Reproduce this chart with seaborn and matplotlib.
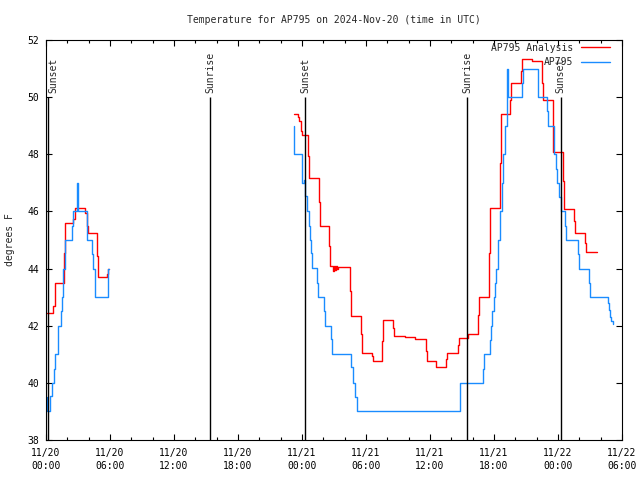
import pandas as pd
import seaborn as sns
import matplotlib
matplotlib.use('Agg')
import matplotlib.pyplot as plt
from matplotlib.lines import Line2D

# hours after 2024-11-20 00:00 UTC; each value holds until the next time (steps)
ana_t1 = [0.07, 0.68, 0.84, 1.69, 1.82, 2.51, 2.68, 2.75, 3.69, 3.81, 3.90, 4.75, 4.84, 5.69, 5.78, 5.90]
ana_v1 = [42.43, 42.7, 43.5, 44.55, 45.6, 45.75, 45.96, 46.13, 45.95, 45.5, 45.25, 44.43, 43.7, 43.8, 44.0, 44.0]

ana_t2 = [23.25, 23.65, 23.75, 23.88, 23.94, 24.04, 24.60, 24.68, 25.56, 25.66, 26.56, 26.65,
          26.88, 27.00, 27.10, 27.19, 27.31, 27.40, 28.50, 28.59, 29.56, 29.66, 30.59, 30.69,
          31.53, 31.62, 32.56, 32.66, 33.66, 34.60, 35.60, 35.69, 36.57, 37.50, 37.62, 38.59,
          38.69, 39.54, 40.53, 40.62, 41.56, 41.66, 42.56, 42.63, 43.51, 43.60, 44.53, 44.63,
          45.53, 46.51, 46.57, 47.50, 47.56, 48.50, 48.59, 49.53, 49.62, 50.56, 50.65, 51.63]
ana_v2 = [49.41, 49.32, 49.15, 48.95, 48.8, 48.68, 47.93, 47.17, 46.32, 45.5, 44.78, 44.08,
          43.9, 44.08, 43.95, 44.08, 44.0, 44.05, 43.21, 42.34, 41.7, 41.06, 40.95, 40.75,
          41.47, 42.19, 41.93, 41.64, 41.6, 41.55, 41.12, 40.77, 40.54, 40.83, 41.04, 41.32,
          41.58, 41.72, 42.36, 43.02, 44.55, 46.12, 47.69, 49.4, 49.9, 50.51, 50.9, 51.32,
          51.26, 50.5, 49.9, 49.0, 48.07, 47.08, 46.09, 45.68, 45.25, 44.9, 44.59, 44.59]

obs_t1 = [0.07, 0.10, 0.41, 0.57, 0.71, 0.81, 1.13, 1.44, 1.52, 1.57, 1.62, 1.78, 2.41, 2.51,
          2.92, 2.98, 3.81, 4.28, 4.44, 4.59, 5.78, 5.93]
obs_v1 = [39.5, 39.0, 39.55, 40.0, 40.5, 41.0, 42.0, 42.5, 43.0, 43.5, 44.0, 45.0, 45.5, 46.0,
          47.0, 46.0, 45.0, 44.5, 44.0, 43.0, 44.0, 44.0]

obs_t2 = [23.23, 23.28, 24.04, 24.19, 24.28, 24.44, 24.63, 24.75, 24.84, 24.91, 25.43, 25.53,
          26.09, 26.19, 26.75, 26.84, 28.62, 28.75, 28.99, 29.12, 38.84, 41.00, 41.09, 41.60,
          41.69, 41.84, 41.97, 42.12, 42.22, 42.35, 42.56, 42.72, 42.87, 43.03, 43.19, 43.25,
          43.30, 44.60, 44.69, 46.15, 47.00, 47.09, 47.62, 47.78, 47.88, 48.12, 48.25, 48.66,
          48.75, 49.90, 50.00, 50.91, 50.97, 52.72, 52.78, 52.88, 53.00, 53.18]
obs_v2 = [49.0, 48.0, 47.0, 47.1, 46.53, 46.0, 45.48, 45.0, 44.55, 44.03, 43.5, 43.02,
          42.51, 41.99, 41.52, 41.02, 40.54, 40.01, 39.49, 39.0, 40.0, 40.5, 41.0, 41.5,
          42.0, 42.5, 43.0, 43.5, 44.0, 45.0, 46.0, 47.0, 48.0, 49.0, 50.0, 51.0,
          50.0, 50.5, 51.0, 50.0, 49.5, 49.0, 48.0, 47.5, 47.0, 46.5, 46.0, 45.5,
          45.0, 44.5, 44.0, 43.5, 43.0, 42.8, 42.55, 42.3, 42.15, 42.05]

sun_times = [0.18, 15.42, 24.3, 39.5, 48.25]
sun_names = ['Sunset', 'Sunrise', 'Sunset', 'Sunrise', 'Sunset']

xtick_hours = [0, 6, 12, 18, 24, 30, 36, 42, 48, 54]
xtick_labels = ['11/20\n00:00', '11/20\n06:00', '11/20\n12:00', '11/20\n18:00', '11/21\n00:00',
                '11/21\n06:00', '11/21\n12:00', '11/21\n18:00', '11/22\n00:00', '11/22\n06:00']
ytick_vals = [38, 40, 42, 44, 46, 48, 50, 52]

rows = []
for name, seg, t, v in [('AP795 Analysis', 1, ana_t1, ana_v1), ('AP795 Analysis', 2, ana_t2, ana_v2),
                        ('AP795', 3, obs_t1, obs_v1), ('AP795', 4, obs_t2, obs_v2)]:
    rows += [(name, seg, a, b) for a, b in zip(t, v)]
df = pd.DataFrame(rows, columns=['series', 'seg', 'hour', 'temp'])

colors = {'AP795 Analysis': '#ff0000', 'AP795': '#1a8cff'}

sns.set_style('ticks')
plt.rcParams['font.family'] = ['DejaVu Sans Mono']
fig, ax = plt.subplots(figsize=(6.4, 4.8), dpi=100)
fig.subplots_adjust(left=46/640, right=622/640, bottom=40/480, top=440/480)

sns.lineplot(data=df, x='hour', y='temp', hue='series', units='seg', estimator=None,
             hue_order=['AP795 Analysis', 'AP795'], palette=colors, drawstyle='steps-post',
             lw=1.0, legend=False, ax=ax)

ax.vlines(sun_times, 38, 50, color='black', lw=1.0)
for i, (t, s) in enumerate(zip(sun_times, sun_names)):
    # first label sits against the left border, so it goes right of its line
    ax.text(t, 50.15, s, rotation=90, ha='left' if i == 0 else 'center', va='bottom', fontsize=7)

ax.set_xlim(0, 54)
ax.set_ylim(38, 52)
ax.set_xticks(xtick_hours)
ax.set_xticklabels(xtick_labels, fontsize=7, linespacing=1.35)
ax.set_xticks(range(0, 55, 2), minor=True)
ax.set_yticks(ytick_vals)
ax.set_yticklabels([str(v) for v in ytick_vals], fontsize=7)
ax.tick_params(which='both', direction='in', top=True, right=True, colors='black', width=0.8)
ax.tick_params(which='major', length=4)
ax.tick_params(axis='x', which='major', pad=6)
ax.tick_params(axis='y', which='major', pad=5)
ax.tick_params(which='minor', length=2)
ax.set_xlabel('')
ax.set_ylabel('')
for sp in ax.spines.values():
    sp.set_color('black')
    sp.set_linewidth(0.8)

fig.text(334/640, 1 - 20/480, 'Temperature for AP795 on 2024-Nov-20 (time in UTC)',
         ha='center', va='center', fontsize=7)
fig.text(10/640, 0.5, 'degrees F', rotation=90, ha='center', va='center', fontsize=7)

handles = [Line2D([], [], color=colors[k], lw=1.0) for k in ['AP795 Analysis', 'AP795']]
ax.legend(handles, ['AP795 Analysis', 'AP795'], loc='upper right', frameon=False,
          markerfirst=False, fontsize=7, handlelength=3.0, handletextpad=0.8,
          labelspacing=0.5, borderaxespad=0.2, bbox_to_anchor=(0.99, 1.008))

plt.savefig('out.png', dpi=100)
